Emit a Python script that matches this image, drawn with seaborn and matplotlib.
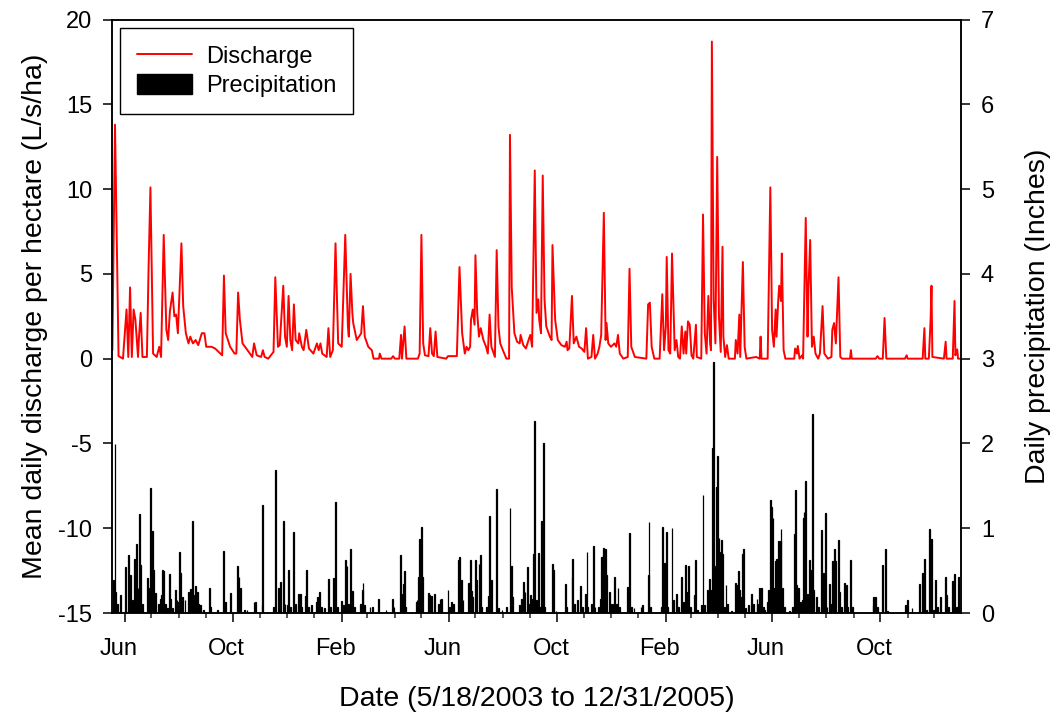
import datetime as dt
import pandas as pd
import matplotlib
matplotlib.use("Agg")
import matplotlib.pyplot as plt
import matplotlib.dates as mdates
import matplotlib.transforms as mtransforms
from matplotlib.lines import Line2D
from matplotlib.patches import Patch
import seaborn as sns

# record starts 5/18/2003, days counted from there
start = dt.datetime(2003, 5, 18)
end = dt.datetime(2005, 12, 31)

# discharge (L/s/ha)
q_day = [0, 3, 7, 12, 16, 18, 20, 22, 24, 26, 29, 30, 32, 34, 39, 41, 43, 46, 50, 53,
         55, 58, 61, 63, 65, 68, 70, 72, 74, 76, 78, 80, 83, 86, 88, 91, 94, 97, 101, 104,
         106, 112, 116, 122, 124, 126, 128, 133, 138, 140, 142, 144, 147, 154, 158, 160, 163, 168, 170, 172,
         176, 182, 184, 187, 189, 193, 195, 197, 199, 201, 203, 205, 207, 210, 211, 214, 216, 219, 222, 227,
         231, 233, 235, 237, 242, 244, 246, 249, 252, 255, 259, 263, 266, 267, 269, 271, 272, 276, 281, 283,
         285, 289, 293, 295, 301, 302, 304, 315, 317, 319, 324, 326, 327, 330, 332, 345, 347, 349, 351, 353,
         357, 359, 361, 363, 365, 367, 377, 379, 389, 392, 395, 398, 400, 402, 404, 405, 407, 409, 410, 412,
         414, 416, 419, 422, 424, 426, 428, 432, 434, 436, 438, 441, 445, 448, 449, 451, 454, 457, 460, 461,
         464, 467, 470, 472, 474, 477, 479, 481, 482, 484, 486, 488, 490, 494, 496, 497, 500, 503, 507, 511,
         513, 514, 516, 519, 521, 524, 527, 530, 533, 535, 537, 541, 543, 545, 548, 550, 552, 555, 557, 558,
         560, 563, 567, 569, 571, 573, 577, 582, 584, 586, 590, 603, 605, 607, 609, 612, 618, 621, 623, 625,
         626, 628, 630, 632, 635, 637, 639, 641, 643, 645, 647, 648, 650, 652, 654, 656, 659, 660, 665, 667,
         669, 671, 673, 675, 676, 677, 679, 681, 683, 685, 687, 689, 690, 692, 694, 696, 703, 704, 706, 708,
         709, 712, 714, 716, 727, 731, 732, 733, 740, 743, 745, 747, 749, 750, 752, 753, 755, 756, 758, 760,
         770, 771, 773, 774, 776, 779, 780, 783, 785, 786, 788, 790, 792, 794, 797, 799, 802, 804, 808, 812,
         813, 815, 817, 820, 822, 824, 833, 834, 835, 862, 864, 866, 870, 872, 874, 895, 897, 898, 915, 917,
         918, 922, 924, 925, 926, 939, 941, 942, 949, 951, 952, 954, 955, 958]
q_val = [0.5, 13.8, 0.15, 0.0, 2.9, 0.1, 4.2, 0.1, 2.9, 2.3, 0.1, 1.2, 2.7, 0.1, 0.1, 5.6, 10.1, 0.3, 0.1, 0.7,
         0.1, 7.3, 1.7, 1.1, 2.8, 3.9, 2.5, 2.6, 1.5, 4.1, 6.8, 3.1, 1.5, 0.9, 1.3, 0.9, 1.1, 0.8, 1.5, 1.5,
         0.7, 0.7, 0.6, 0.3, 0.2, 4.9, 1.5, 0.7, 0.3, 0.3, 3.9, 2.3, 0.9, 0.4, 0.1, 0.9, 0.2, 0.1, 0.5, 0.1,
         0.0, 0.4, 4.8, 0.7, 0.8, 4.3, 1.3, 0.7, 3.7, 1.1, 0.5, 3.2, 1.1, 0.9, 1.5, 0.7, 0.5, 1.7, 0.6, 0.3,
         0.9, 0.5, 0.9, 0.3, 0.1, 1.8, 0.1, 0.5, 6.8, 0.9, 0.7, 7.3, 1.9, 1.3, 5.0, 2.7, 2.1, 1.1, 1.5, 3.1,
         1.3, 0.7, 0.5, 0.0, 0.0, 0.3, 0.0, 0.0, 0.15, 0.0, 0.0, 1.4, 0.0, 1.9, 0.0, 0.0, 0.3, 7.3, 0.9, 0.2,
         0.15, 1.8, 0.3, 0.15, 1.6, 0.1, 0.0, 0.15, 0.15, 5.4, 1.5, 0.3, 0.7, 0.5, 0.7, 2.3, 2.9, 2.0, 6.1, 2.7,
         1.3, 1.8, 1.1, 0.7, 0.3, 2.6, 0.7, 0.1, 6.4, 1.9, 0.9, 0.5, 0.0, 0.0, 13.2, 4.2, 1.5, 1.0, 0.9, 1.4,
         0.8, 0.6, 1.1, 1.4, 0.7, 11.1, 2.7, 3.5, 2.3, 1.5, 10.8, 3.5, 1.9, 1.3, 1.1, 6.7, 2.3, 1.1, 0.8, 0.7,
         1.0, 0.5, 0.6, 3.7, 0.9, 1.3, 0.7, 0.6, 0.4, 1.8, 0.0, 0.1, 1.4, 0.0, 0.3, 0.7, 1.4, 8.6, 1.1, 2.1,
         0.9, 0.7, 0.9, 0.7, 1.4, 0.3, 0.0, 0.1, 5.3, 0.7, 0.1, 0.0, 3.2, 3.3, 0.7, 0.0, 0.0, 3.8, 0.5, 1.9,
         6.0, 0.5, 0.3, 6.2, 0.5, 1.1, 0.1, 0.0, 1.9, 0.3, 1.6, 0.3, 2.2, 2.0, 0.2, 0.0, 2.0, 0.1, 0.0, 8.5,
         1.5, 0.3, 3.7, 0.9, 0.5, 18.7, 3.5, 0.9, 11.9, 2.5, 0.4, 6.6, 1.3, 0.1, 0.8, 0.0, 0.0, 1.1, 0.3, 2.6,
         0.1, 5.7, 0.7, 0.0, 0.1, 0.0, 1.3, 0.0, 0.0, 10.1, 1.7, 0.7, 2.9, 1.3, 3.5, 4.3, 3.4, 6.2, 0.5, 0.0,
         0.0, 0.6, 0.3, 0.75, 0.0, 0.2, 0.0, 8.3, 1.3, 4.0, 7.0, 0.7, 1.3, 0.3, 0.0, 0.3, 3.1, 0.3, 0.0, 0.1,
         1.7, 2.1, 0.9, 4.8, 0.1, 0.0, 0.0, 0.5, 0.0, 0.0, 0.15, 0.0, 0.0, 2.4, 0.0, 0.0, 0.2, 0.0, 0.0, 1.8,
         0.0, 0.0, 2.3, 4.3, 0.1, 0.0, 1.0, 0.0, 0.0, 3.4, 0.2, 0.55, 0.0, 0.0]

# daily precipitation (inches)
p_day = [1, 3, 4, 6, 9, 15, 18, 20, 23, 25, 27, 29, 31, 32, 34, 40, 42, 43, 45, 46,
         48, 49, 52, 54, 55, 57, 58, 60, 62, 65, 66, 68, 71, 73, 74, 76, 77, 79, 82, 86,
         88, 91, 92, 94, 96, 97, 100, 103, 110, 111, 119, 126, 128, 133, 141, 143, 145, 149, 152, 160,
         162, 169, 170, 182, 184, 188, 190, 193, 195, 198, 199, 201, 205, 207, 210, 212, 214, 218, 219, 221,
         225, 231, 232, 234, 236, 240, 244, 246, 250, 252, 254, 259, 261, 263, 265, 267, 269, 271, 273, 280,
         282, 283, 285, 291, 294, 301, 309, 316, 318, 325, 327, 329, 330, 331, 343, 344, 346, 347, 349, 350,
         357, 358, 360, 364, 368, 370, 372, 379, 381, 383, 385, 391, 392, 394, 396, 402, 404, 406, 407, 410,
         411, 414, 416, 417, 422, 425, 426, 428, 434, 436, 440, 445, 449, 451, 452, 460, 462, 464, 466, 469,
         470, 472, 474, 476, 477, 479, 481, 483, 485, 487, 488, 497, 498, 501, 512, 513, 519, 520, 522, 525,
         529, 531, 534, 536, 537, 541, 543, 545, 549, 551, 552, 554, 555, 557, 558, 561, 563, 565, 567, 569,
         571, 573, 582, 584, 586, 589, 597, 599, 605, 606, 608, 620, 621, 622, 624, 626, 627, 632, 634, 637,
         639, 643, 645, 647, 649, 651, 653, 657, 659, 661, 665, 667, 669, 672, 674, 676, 677, 678, 679, 681,
         682, 683, 685, 686, 688, 689, 691, 693, 695, 699, 704, 705, 707, 708, 709, 712, 713, 715, 718, 722,
         724, 728, 729, 731, 733, 735, 736, 740, 741, 743, 744, 746, 747, 749, 750, 752, 754, 755, 757, 759,
         765, 768, 770, 771, 773, 775, 777, 779, 780, 781, 783, 785, 787, 789, 791, 792, 795, 797, 801, 803,
         805, 807, 810, 812, 813, 815, 817, 820, 821, 823, 827, 829, 830, 834, 836, 859, 860, 862, 864, 870,
         873, 875, 896, 898, 903, 911, 915, 917, 919, 923, 925, 927, 930, 932, 935, 941, 942, 944, 949, 951,
         953, 955]
p_val = [0.39, 1.99, 0.25, 0.11, 0.21, 0.54, 0.68, 0.45, 0.15, 0.64, 0.81, 0.29, 1.17, 0.57, 0.11, 0.41, 0.29, 1.47, 0.97, 0.51,
         0.11, 0.24, 0.11, 0.17, 0.21, 0.51, 0.50, 0.11, 0.06, 0.46, 0.17, 0.06, 0.27, 0.15, 0.13, 0.72, 0.47, 0.19, 0.15, 0.25,
         0.28, 1.09, 0.21, 0.32, 0.25, 0.11, 0.10, 0.04, 0.29, 0.07, 0.04, 0.73, 0.13, 0.24, 0.55, 0.42, 0.29, 0.04, 0.03, 0.13,
         0.13, 0.09, 1.28, 0.07, 1.69, 0.29, 0.37, 1.09, 0.11, 0.10, 0.51, 0.07, 0.96, 0.11, 0.23, 0.22, 0.07, 0.20, 0.51, 0.07,
         0.09, 0.13, 0.19, 0.25, 0.07, 0.06, 0.40, 0.07, 0.41, 1.31, 0.07, 0.14, 0.09, 0.63, 0.55, 0.11, 0.75, 0.26, 0.07, 0.11,
         0.27, 0.36, 0.09, 0.07, 0.07, 0.17, 0.04, 0.17, 0.07, 0.68, 0.22, 0.34, 0.50, 0.07, 0.13, 0.15, 0.43, 0.87, 1.01, 0.43,
         0.24, 0.21, 0.20, 0.22, 0.11, 0.17, 0.17, 0.27, 0.07, 0.13, 0.11, 0.63, 0.66, 0.39, 0.15, 0.35, 0.63, 0.26, 0.19, 0.63,
         0.39, 0.58, 0.69, 0.07, 0.07, 0.20, 1.14, 0.39, 1.46, 0.06, 0.04, 0.07, 1.24, 0.56, 0.19, 0.09, 0.17, 0.37, 0.25, 0.54,
         0.11, 0.21, 0.17, 0.70, 2.26, 0.15, 0.71, 0.07, 1.08, 2.00, 0.07, 0.58, 0.51, 0.02, 0.34, 0.07, 0.43, 0.64, 0.11, 0.15,
         0.32, 0.07, 0.23, 0.72, 0.07, 0.11, 0.79, 0.07, 0.07, 0.17, 0.66, 0.68, 0.77, 0.76, 0.45, 0.25, 0.11, 0.11, 0.42, 0.11,
         0.30, 0.07, 0.31, 0.94, 0.07, 0.06, 0.07, 0.09, 0.45, 1.07, 0.07, 0.07, 1.01, 0.18, 0.59, 0.96, 0.07, 1.00, 0.15, 0.23,
         0.07, 0.42, 0.13, 0.57, 0.25, 0.55, 0.07, 0.21, 0.63, 0.04, 0.09, 1.39, 0.09, 0.27, 0.40, 0.07, 0.27, 1.95, 2.96, 0.55,
         1.49, 1.85, 0.88, 0.72, 0.86, 0.70, 0.07, 0.33, 0.11, 0.02, 0.35, 0.33, 0.50, 0.27, 0.19, 0.70, 0.76, 0.06, 0.10, 0.22,
         0.11, 0.16, 0.11, 0.29, 0.30, 0.07, 0.04, 0.13, 0.27, 1.33, 1.25, 1.12, 0.29, 0.61, 0.64, 0.85, 0.85, 0.99, 0.29, 0.07,
         0.02, 0.07, 0.93, 1.45, 0.33, 0.30, 0.13, 0.15, 1.12, 1.19, 1.56, 0.23, 0.62, 0.51, 2.35, 0.27, 0.19, 0.07, 0.98, 0.47,
         1.18, 0.07, 0.34, 0.11, 0.61, 0.76, 0.61, 0.86, 0.25, 0.07, 0.36, 0.33, 0.07, 0.63, 0.07, 0.09, 0.19, 0.19, 0.07, 0.57,
         0.76, 0.02, 0.09, 0.15, 0.06, 0.34, 0.47, 0.64, 0.04, 0.99, 0.87, 0.04, 0.39, 0.07, 0.19, 0.42, 0.21, 0.07, 0.38, 0.46,
         0.07, 0.42]

dq = pd.DataFrame({"date": [start + dt.timedelta(days=d) for d in q_day], "discharge": q_val})
dp = pd.DataFrame({"date": [start + dt.timedelta(days=d) for d in p_day], "precip": p_val})

sns.set_style("ticks")
plt.rcParams["font.family"] = ["Liberation Sans", "DejaVu Sans"]
plt.rcParams["axes.unicode_minus"] = False
plt.rcParams["text.color"] = "black"
plt.rcParams["axes.labelcolor"] = "black"

fig = plt.figure(figsize=(10.51, 7.17), dpi=100)
ax = fig.add_axes([0.1069, 0.145, 0.8072, 0.8278])
ax2 = ax.twinx()

sns.lineplot(data=dq, x="date", y="discharge", ax=ax, color="#ff0000", linewidth=1.4)
ax2.bar(dp["date"], dp["precip"], width=1.0, color="black", edgecolor="black", linewidth=0.9)

ax.set_xlim(start, end)
ax.set_ylim(-15, 20)
ax.set_yticks(range(-15, 21, 5))
ax2.set_ylim(0, 7)
ax2.set_yticks(range(0, 8))

ax.xaxis.set_major_locator(mdates.MonthLocator(bymonth=[2, 6, 10]))
ax.xaxis.set_major_formatter(mdates.DateFormatter("%b"))
ax.xaxis.set_minor_locator(mdates.MonthLocator())

for a in (ax, ax2):
    for s in a.spines.values():
        s.set_color("black")
        s.set_linewidth(1.1)
    a.tick_params(which="major", direction="out", length=6.2, width=1.1, pad=8.3,
                  labelsize=17, colors="black")
    a.tick_params(which="minor", direction="out", length=3.8, width=1.1)
ax.tick_params(axis="x", pad=11.5)

# month labels sit a little left of their ticks in the original
shift = mtransforms.ScaledTranslation(-6 / 100, 0, fig.dpi_scale_trans)
for lab in ax.get_xticklabels():
    lab.set_transform(lab.get_transform() + shift)

ax.set_xlabel("Date (5/18/2003 to 12/31/2005)", fontsize=20.5, labelpad=19)
ax.set_ylabel("Mean daily discharge per hectare (L/s/ha)", fontsize=20.5, labelpad=7)
ax2.set_ylabel("Daily precipitation (Inches)", fontsize=20.5, labelpad=22)

handles = [Line2D([], [], color="#ff0000", linewidth=1.4),
           Patch(facecolor="black", edgecolor="black")]
leg = ax2.legend(handles, ["Discharge", "Precipitation"], loc="upper left",
                 bbox_to_anchor=(0.0095, 0.985), fontsize=17, frameon=True,
                 fancybox=False, edgecolor="black", framealpha=1,
                 handlelength=2.3, handleheight=0.9, handletextpad=0.6,
                 labelspacing=0.26, borderpad=0.72, borderaxespad=0)
leg.get_frame().set_linewidth(1.0)

fig.savefig("out.png", dpi=100)
